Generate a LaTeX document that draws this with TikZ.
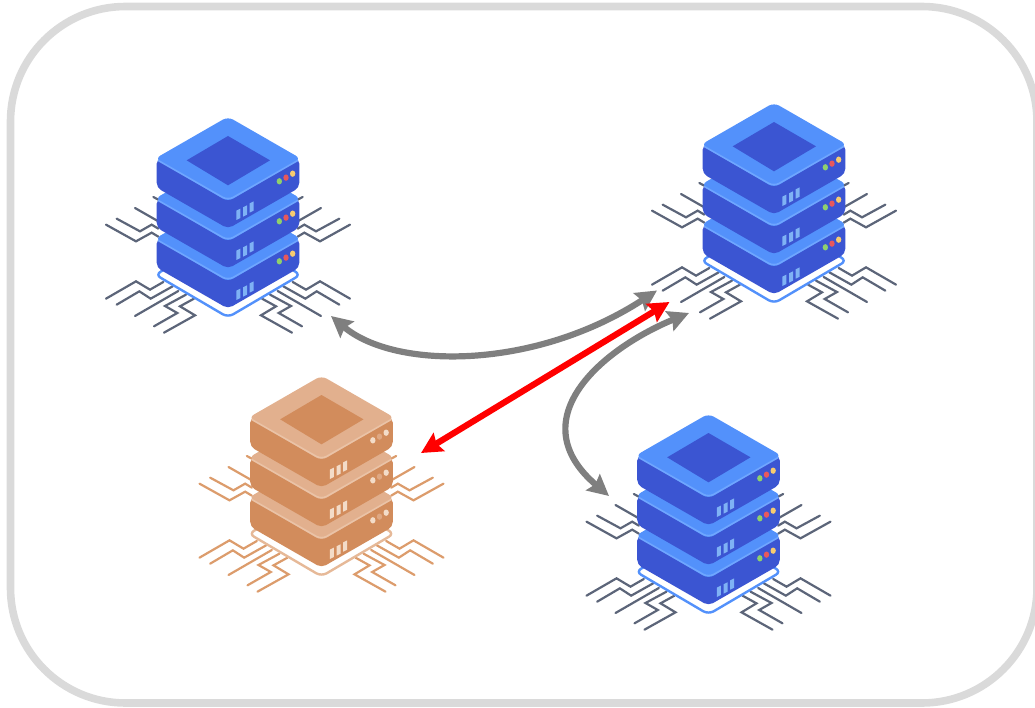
\documentclass[tikz,border=0pt]{standalone}
\usetikzlibrary{arrows.meta}
\definecolor{frameg}{HTML}{DADADA}
\definecolor{arrowg}{HTML}{7F7F7F}
\tikzset{
  wire/.style={draw=cwire,line width=2.2pt,line cap=round,line join=miter},
  link/.style={line width=6.2pt,{Stealth[length=21pt,width=21pt,inset=3pt]}-{Stealth[length=21pt,width=21pt,inset=3pt]}},
  frame/.style={draw=frameg,line width=7.6pt,rounded corners=115pt},
}
\newcommand{\useblue}{%
  \definecolor{cdark}{HTML}{3B55D2}\definecolor{cface}{HTML}{5391FB}\definecolor{chigh}{HTML}{6FA6FF}%
  \definecolor{cwire}{HTML}{5C6579}\definecolor{cbar}{HTML}{7FB2F5}\definecolor{cplate}{HTML}{5391FB}%
  \definecolor{cleda}{HTML}{8FD06C}\definecolor{cledb}{HTML}{E8585C}\definecolor{cledc}{HTML}{F7CB70}}
\newcommand{\useorange}{%
  \definecolor{cdark}{HTML}{D28C5C}\definecolor{cface}{HTML}{E2B08E}\definecolor{chigh}{HTML}{EAC3A7}%
  \definecolor{cwire}{HTML}{DC9C6C}\definecolor{cbar}{HTML}{F3DCC8}\definecolor{cplate}{HTML}{E6B998}%
  \definecolor{cleda}{HTML}{F3DCC8}\definecolor{cledb}{HTML}{DFA883}\definecolor{cledc}{HTML}{F3DCC8}}
% apex of the top face at (#1,#2) in reference pixels; inner units are 1/3 px, origin as in a 3x crop
\newcommand{\serverstack}[2]{%
\begin{scope}[shift={({#1-138},{#2-12.667})},x=0.33333pt,y=-0.33333pt]
  \foreach \mx/\sx in {0/1,828/-1}{
    \begin{scope}[shift={(\mx,0)},xscale=\sx]
      \draw[wire] (190,275) -- (205,283);
      \draw[wire] (135,308) -- (205,348);
      \draw[wire] (80,340) -- (150,378) -- (185,358) -- (205,370);
      \draw[wire] (48,358) -- (138,408) -- (185,382) -- (205,394);
      \draw[wire] (48,580) -- (138,528) -- (180,553) -- (220,530);
      \draw[wire] (80,598) -- (148,558) -- (182,580) -- (248,543);
      \draw[wire] (135,632) -- (265,557);
      \draw[wire] (192,663) -- (262,623) -- (225,602) -- (288,568);
      \draw[wire] (222,682) -- (315,630) -- (270,603) -- (312,580);
    \end{scope}
  }
  \draw[draw=cplate,fill=white,line width=2.4pt,rounded corners=6pt]
    (196,508) -- (414,384) -- (632,508) -- (414,636) -- cycle;
  \foreach \o in {240,120,0}{
    \begin{scope}[shift={(0,\o)}]
      \fill[cdark,rounded corners=5pt] (200,160) -- (628,160) -- (628,247) -- (414,370) -- (200,247) -- cycle;
      \fill[cface,rounded corners=6pt] (414,34) -- (633,160) -- (414,289) -- (195,160) -- cycle;
      \draw[chigh,line width=1.6pt,rounded corners=6pt] (204,165) -- (414,285) -- (624,165);
      \fill[cleda] (568,228) ellipse (8 and 9.5);
      \fill[cledb] (588,217) ellipse (8 and 9.5);
      \fill[cledc] (608,205) ellipse (8 and 9.5);
      \fill[cbar] (439,316) -- (451,310) -- (451,338) -- (439,344) -- cycle;
      \fill[cbar] (459,306) -- (471,300) -- (471,328) -- (459,334) -- cycle;
      \fill[cbar] (479,294) -- (491,288) -- (491,316) -- (479,322) -- cycle;
    \end{scope}
  }
  \fill[cdark] (414,92) -- (540,165) -- (414,240) -- (290,165) -- cycle;
\end{scope}}
\begin{document}
\begin{tikzpicture}[x=1pt,y=-1pt]
  \useasboundingbox (0,0) rectangle (1035,708);
  \begin{scope}
    \clip (0,0) rectangle (1035,708);
    \draw[frame] (10.5,6.5) rectangle (1037,703);
  \end{scope}
  \useblue
  \serverstack{228}{118}
  \serverstack{774}{104}
  \serverstack{708.5}{415}
  \useorange
  \serverstack{321.5}{377}
  \coordinate (aL) at (331,316);
  \coordinate (aR) at (657,290.5);
  \coordinate (rT) at (669.5,302);
  \coordinate (rB) at (421,453);
  \coordinate (bT) at (689,313);
  \coordinate (bB) at (609,496);
  \draw[link,arrowg] (aL) .. controls (395,370) and (535,370) .. (aR);
  \draw[link,red] (rB) -- (rT);
  \draw[link,arrowg] (bT) .. controls (600,350) and (520,420) .. (bB);
\end{tikzpicture}
\end{document}
